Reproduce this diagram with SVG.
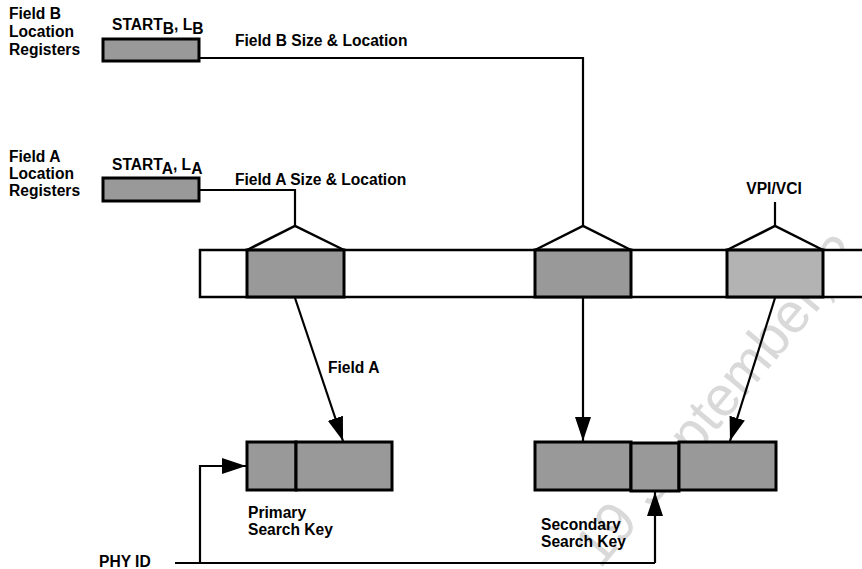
<svg xmlns="http://www.w3.org/2000/svg" width="862" height="569" viewBox="0 0 862 569">
<defs>
<style>
text{font-family:"Liberation Sans",Arial,sans-serif;font-weight:bold;font-size:15.6px;fill:#000}
.wm{font-weight:normal;font-size:56px;fill:#d9d9d9}
.reg{fill:#999;stroke:#000;stroke-width:3}
.seg{fill:#999;stroke:#000;stroke-width:3}
.segl{fill:#b3b3b3;stroke:#000;stroke-width:3}
.bar{fill:#fff;stroke:#000;stroke-width:2.5}
.tri{fill:none;stroke:#000;stroke-width:2.5;stroke-linejoin:miter}
.ln{fill:none;stroke:#000;stroke-width:2.2}
.arr{fill:none;stroke:#000;stroke-width:2.2;marker-end:url(#ah)}
</style>
<marker id="ah" markerUnits="userSpaceOnUse" markerWidth="24" markerHeight="16" refX="24" refY="8" orient="auto" viewBox="0 0 24 16">
<path d="M0,0 L24,8 L0,16 z" fill="#000"/>
</marker>
</defs>
<rect width="862" height="569" fill="#fff"/>
<text class="wm" transform="translate(600,570) rotate(-50)">19 September, 2</text>

<g id="label-regB">
<text x="9" y="19">Field B</text>
<text x="9" y="37">Location</text>
<text x="9" y="55">Registers</text>
</g>
<g id="regB">
<rect class="reg" x="103" y="39" width="96" height="22"/>
<text x="112" y="30">START<tspan dy="4">B</tspan><tspan dy="-4">, L</tspan><tspan dy="4">B</tspan></text>
</g>
<g id="label-regA">
<text x="9" y="162">Field A</text>
<text x="9" y="179">Location</text>
<text x="9" y="196">Registers</text>
</g>
<g id="regA">
<rect class="reg" x="103" y="178" width="96" height="23"/>
<text x="112" y="170">START<tspan dy="4">A</tspan><tspan dy="-4">, L</tspan><tspan dy="4">A</tspan></text>
</g>

<g id="bar">
<rect class="bar" x="200" y="250" width="680" height="47"/>
</g>
<g id="segA">
<rect class="seg" x="247" y="250" width="97" height="47"/>
<path class="tri" d="M247,250 L295,226 L344,250"/>
</g>
<g id="segB">
<rect class="seg" x="535" y="250" width="96" height="47"/>
<path class="tri" d="M535,250 L583,226 L631,250"/>
</g>
<g id="segVPI">
<rect class="segl" x="727" y="250" width="96" height="47"/>
<path class="tri" d="M727,250 L775,226 L823,250"/>
<path class="ln" d="M775,202 V226"/>
<text x="774" y="194" text-anchor="middle">VPI/VCI</text>
</g>

<g id="primaryKey">
<rect class="seg" x="247" y="442" width="49" height="48"/>
<rect class="seg" x="296" y="442" width="96" height="48"/>
<text x="248" y="518">Primary</text>
<text x="248" y="535">Search Key</text>
</g>
<g id="secondaryKey">
<rect class="seg" x="535" y="442" width="96" height="48"/>
<rect class="seg" x="631" y="443" width="48" height="48"/>
<rect class="seg" x="679" y="442" width="97" height="48"/>
<text x="541" y="530">Secondary</text>
<text x="541" y="547">Search Key</text>
</g>
<g id="phy">
<text x="99" y="567">PHY ID</text>
</g>

<g id="connectors">
<path class="ln" d="M199,58 H583 V226"/>
<text x="235" y="46">Field B Size &amp; Location</text>
<path class="ln" d="M199,190 H295 V226"/>
<text x="235" y="185">Field A Size &amp; Location</text>
<path class="arr" d="M295,298 L343,441"/>
<text x="328" y="373">Field A</text>
<path class="arr" d="M583,298 V441"/>
<path class="arr" d="M775,298 L730,441"/>
<path class="ln" d="M175,563 H655"/>
<path class="arr" d="M655,563 V492"/>
<path class="arr" d="M200,563 V466 H246"/>
</g>
</svg>
